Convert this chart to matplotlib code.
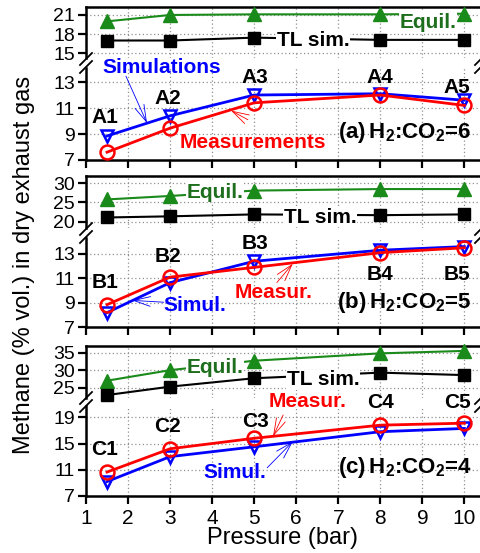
import numpy as np
import matplotlib
matplotlib.use("Agg")
import matplotlib.pyplot as plt

plt.rcParams['font.family'] = ['Liberation Sans', 'DejaVu Sans']
plt.rcParams['mathtext.fontset'] = 'custom'
plt.rcParams['mathtext.rm'] = 'Liberation Sans:bold'
plt.rcParams['mathtext.bf'] = 'Liberation Sans:bold'
plt.rcParams['mathtext.default'] = 'bf'

pressure = [1.5, 3, 5, 8, 10]

# (a) H2:CO2 = 6
equil_a = [20.0, 21.0, 21.1, 21.1, 21.2]
tl_a = [17.0, 17.0, 17.45, 17.1, 17.1]
sim_a = [8.85, 10.4, 12.0, 12.1, 11.6]
meas_a = [7.6, 9.45, 11.4, 12.0, 11.2]

# (b) H2:CO2 = 5
equil_b = [25.8, 26.7, 28.1, 28.5, 28.5]
tl_b = [21.1, 21.4, 21.9, 21.7, 21.9]
sim_b = [8.2, 10.65, 12.4, 13.3, 13.6]
meas_b = [8.85, 11.1, 11.9, 13.1, 13.5]

# (c) H2:CO2 = 4
equil_c = [27.0, 30.0, 32.7, 34.8, 35.5]
tl_c = [22.9, 25.3, 27.7, 29.3, 28.6]
sim_c = [9.2, 13.0, 14.5, 16.8, 17.3]
meas_c = [10.65, 14.2, 15.8, 17.8, 18.1]

point_labels = [["A1", "A2", "A3", "A4", "A5"],
                ["B1", "B2", "B3", "B4", "B5"],
                ["C1", "C2", "C3", "C4", "C5"]]

W, H = 481, 553
fig = plt.figure(figsize=(W / 100, H / 100), dpi=100)

GREEN = '#1a8a1a'
GREEN_TXT = '#1d6e1d'


def px_axes(top, bottom, left=86, right=490):
    return fig.add_axes([left / W, 1 - bottom / H, (right - left) / W, (bottom - top) / H])


def style(ax, ylim, yticks, upper, show_x=False):
    ax.set_xlim(1, 1 + (490 - 86) / 42.04)
    ax.set_ylim(*ylim)
    ax.set_yticks(yticks)
    ax.set_xticks(range(1, 11))
    ax.grid(True, color='#909090', ls=(0, (1, 2)), lw=0.9)
    for s in ax.spines.values():
        s.set_linewidth(1.8)
    ax.spines['right'].set_visible(False)
    ax.tick_params(axis='y', direction='out', length=6, width=1.6, labelsize=14, pad=2)
    if upper:
        ax.spines['bottom'].set_visible(False)
        ax.tick_params(axis='x', length=0, labelbottom=False)
    else:
        ax.spines['top'].set_visible(False)
        ax.tick_params(axis='x', direction='out', length=6, width=1.6, labelsize=15,
                       labelbottom=show_x, pad=3)


def brk(y_mid):
    # break marks on the left spine and (cut off) at the right edge
    for x0 in (80, 475):
        for dy in (-4, 4):
            fig.add_artist(plt.Line2D([x0 / W, (x0 + 12) / W],
                                      [1 - (y_mid + dy + 6) / H, 1 - (y_mid + dy - 6) / H],
                                      color='black', lw=1.3))


panels = [
    dict(equil=equil_a, tl=tl_a, sim=sim_a, meas=meas_a,
         up=(7, 58, (14.26, 22.25), [15, 18, 21]),
         lo=(68, 160, (7, 14.08), [7, 9, 11, 13])),
    dict(equil=equil_b, tl=tl_b, sim=sim_b, meas=meas_b,
         up=(176, 228, (18.36, 31.9), [20, 25, 30]),
         lo=(238, 327.3, (7, 14.3), [7, 9, 11, 13])),
    dict(equil=equil_c, tl=tl_c, sim=sim_c, meas=meas_c,
         up=(346, 398, (22.06, 36.9), [25, 30, 35]),
         lo=(406, 496, (7, 20.72), [7, 11, 15, 19])),
]

ups, los = [], []
for i, p in enumerate(panels):
    t, b, yl, yt = p['up']
    axu = px_axes(t, b)
    style(axu, yl, yt, upper=True)
    axu.plot(pressure, p['equil'], color=GREEN, lw=1.5, marker='^', ms=10.5, clip_on=False, zorder=3)
    axu.plot(pressure, p['tl'], color='black', lw=1.5, marker='s', ms=8.5, clip_on=False, zorder=3)
    t2, b2, yl2, yt2 = p['lo']
    axl = px_axes(t2, b2)
    style(axl, yl2, yt2, upper=False, show_x=(i == 2))
    axl.plot(pressure, p['sim'], color='blue', lw=2, marker='v', ms=9, mfc='none', mew=1.8,
             clip_on=False, zorder=3)
    axl.plot(pressure, p['meas'], color='red', lw=2, marker='o', ms=10, mfc='none', mew=1.8,
             clip_on=False, zorder=4)
    brk((b + t2) / 2)
    ups.append(axu)
    los.append(axl)

bold = dict(fontsize=15, fontweight='bold', ha='center', va='center')
wbox = dict(fc='white', ec='none', pad=0.6)

# point labels
lab_y = [[10.25, 11.7, 13.38, 13.38, 12.55],
         [10.66, 12.8, 13.85, 11.3, 11.3],
         [14.05, 17.55, 18.3, 21.2, 21.2]]
lab_x = [1.45, 2.95, 5.02, 8.0, 9.83]
for i in range(3):
    for j in range(5):
        los[i].text(lab_x[j], lab_y[i][j], point_labels[i][j], color='black', **bold)

# series labels on upper axes
ups[0].text(9.13, 19.8, "Equil.", color=GREEN_TXT, bbox=wbox, zorder=5, **bold)
ups[0].text(6.40, 17.0, "TL sim.", color='black', bbox=wbox, zorder=5, **bold)
ups[1].text(4.07, 27.7, "Equil.", color=GREEN_TXT, bbox=wbox, zorder=5, **bold)
ups[1].text(6.57, 21.2, "TL sim.", color='black', bbox=wbox, zorder=5, **bold)
ups[2].text(4.07, 30.9, "Equil.", color=GREEN_TXT, bbox=wbox, zorder=5, **bold)
ups[2].text(6.64, 27.2, "TL sim.", color='black', bbox=wbox, zorder=5, **bold)

arr = lambda c: dict(arrowstyle='->,head_length=1.2,head_width=0.35', color=c, lw=0.6,
                     shrinkA=0, shrinkB=0)

big = dict(bold, fontsize=16)

# (a)
los[0].text(2.81, 14.15, "Simulations", color='blue', **bold)
los[0].annotate("", xy=(2.45, 9.85), xytext=(1.95, 13.45), arrowprops=arr('blue'))
los[0].text(4.97, 8.33, "Measurements", color='red', **bold)
los[0].annotate("", xy=(4.45, 10.8), xytext=(4.85, 10.1), arrowprops=arr('red'))
los[0].text(8.58, 9.1, r"(a)$\,$H$_2$:CO$_2$=6", color='black', **big)

# (b)
los[1].text(5.47, 9.84, "Measur.", color='red', **bold)
los[1].annotate("", xy=(5.92, 12.2), xytext=(5.54, 10.66), arrowprops=arr('red'))
los[1].text(3.59, 8.78, "Simul.", color='blue', **bold)
los[1].annotate("", xy=(2.1, 9.2), xytext=(2.85, 9.05), arrowprops=arr('blue'))
los[1].text(8.58, 9.0, r"(b)$\,$H$_2$:CO$_2$=5", color='black', **big)

# (c)
los[2].text(6.26, 21.37, "Measur.", color='red', **bold)
los[2].annotate("", xy=(5.45, 16.1), xytext=(5.69, 19.35), arrowprops=arr('red'))
los[2].text(4.54, 10.54, "Simul.", color='blue', **bold)
los[2].annotate("", xy=(5.92, 15.3), xytext=(5.31, 11.3), arrowprops=arr('blue'))
los[2].text(8.58, 11.3, r"(c)$\,$H$_2$:CO$_2$=4", color='black', **big)

fig.text(24 / W, 1 - 265 / H, "Methane (% vol.) in dry exhaust gas", rotation=90,
         ha='center', va='center', fontsize=17)
fig.text(283 / W, 1 - 538 / H, "Pressure (bar)", ha='center', va='center', fontsize=17)

fig.savefig("out.png", dpi=100)
